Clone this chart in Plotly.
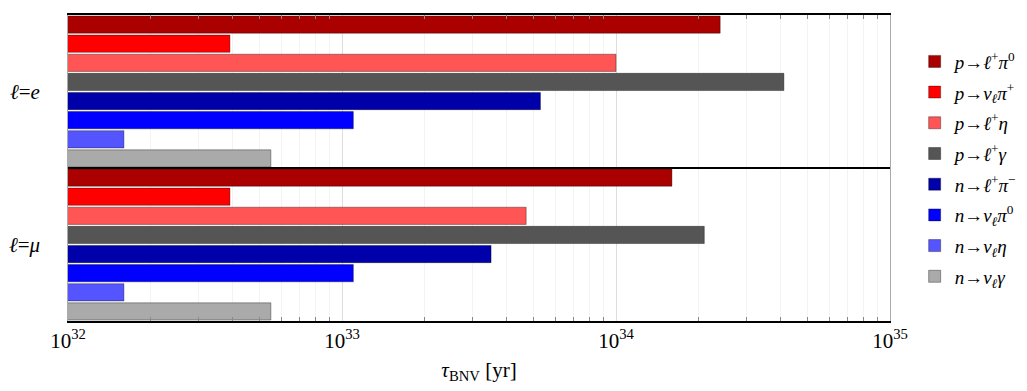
import plotly.graph_objects as go

groups = ["<i>ℓ</i>=<i>e</i>", "<i>ℓ</i>=<i>μ</i>"]
channels = [
    "<i>p</i>→<i>ℓ</i><sup>+</sup><i>π</i><sup>0</sup>",
    "<i>p</i>→<i>ν</i><sub><i>ℓ</i></sub><i>π</i><sup>+</sup>",
    "<i>p</i>→<i>ℓ</i><sup>+</sup><i>η</i>",
    "<i>p</i>→<i>ℓ</i><sup>+</sup><i>γ</i>",
    "<i>n</i>→<i>ℓ</i><sup>+</sup><i>π</i><sup>−</sup>",
    "<i>n</i>→<i>ν</i><sub><i>ℓ</i></sub><i>π</i><sup>0</sup>",
    "<i>n</i>→<i>ν</i><sub><i>ℓ</i></sub><i>η</i>",
    "<i>n</i>→<i>ν</i><sub><i>ℓ</i></sub><i>γ</i>",
]
# lifetimes [yr] for (l=e, l=mu)
tau_e = [2.4e34, 3.9e32, 1.0e34, 4.1e34, 5.3e33, 1.1e33, 1.6e32, 5.5e32]
tau_mu = [1.6e34, 3.9e32, 4.7e33, 2.1e34, 3.5e33, 1.1e33, 1.6e32, 5.5e32]
colors = ["#AA0000", "#FF0000", "#FF5555", "#555555",
          "#0000AA", "#0000FF", "#5555FF", "#AAAAAA"]
tick_vals = [1e32, 1e33, 1e34, 1e35]
tick_text = ["10<sup>32</sup>", "10<sup>33</sup>", "10<sup>34</sup>", "10<sup>35</sup>"]
minor_vals = [m * d for d in (1e32, 1e33, 1e34) for m in range(2, 10)]

serif = "Liberation Serif, DejaVu Serif, serif"

fig = go.Figure()
for i, name in enumerate(channels):
    fig.add_trace(go.Bar(
        y=groups, x=[tau_e[i], tau_mu[i]], orientation="h", name=name,
        legendgroup=str(i),
        marker=dict(color=colors[i], line=dict(color="rgba(0,0,0,0.35)", width=1)),
    ))

fig.add_shape(type="line", xref="paper", x0=0, x1=1, yref="y", y0=0.5, y1=0.5,
              line=dict(color="black", width=2))

for g in groups:
    fig.add_annotation(text=g, xref="paper", x=-0.032, xanchor="right",
                       yref="y", y=g, yanchor="middle", showarrow=False,
                       font=dict(family=serif, size=21, color="black"))

fig.update_layout(
    width=1027, height=391,
    margin=dict(l=60, r=145, t=7, b=78),
    plot_bgcolor="white", paper_bgcolor="white",
    barmode="group", bargap=0.0, bargroupgap=0.1,
    font=dict(family=serif, size=18, color="black"),
    legend=dict(x=1.03, y=0.91, yanchor="top", xanchor="left",
                font=dict(family=serif, size=19), tracegroupgap=3,
                traceorder="grouped"),
    xaxis=dict(
        type="log", range=[32, 35], automargin=False,
        tickvals=tick_vals, ticktext=tick_text, ticks="",
        showgrid=True, gridcolor="#dddddd", gridwidth=1,
        minor=dict(tickvals=minor_vals, ticks="inside", ticklen=4, tickcolor="#888888",
                   showgrid=True, gridcolor="#f3f3f3"),
        showline=True, linecolor="black", linewidth=2, mirror="ticks",
        tickfont=dict(size=21),
        title=dict(text="<i>τ</i><sub>BNV</sub> [yr]", font=dict(size=21), standoff=10),
        zeroline=False,
    ),
    yaxis=dict(
        autorange="reversed", showline=True, linecolor="#aaaaaa", linewidth=1,
        mirror=True, ticks="", showgrid=False, showticklabels=False,
        automargin=False,
    ),
)

fig.write_html("out.html")
